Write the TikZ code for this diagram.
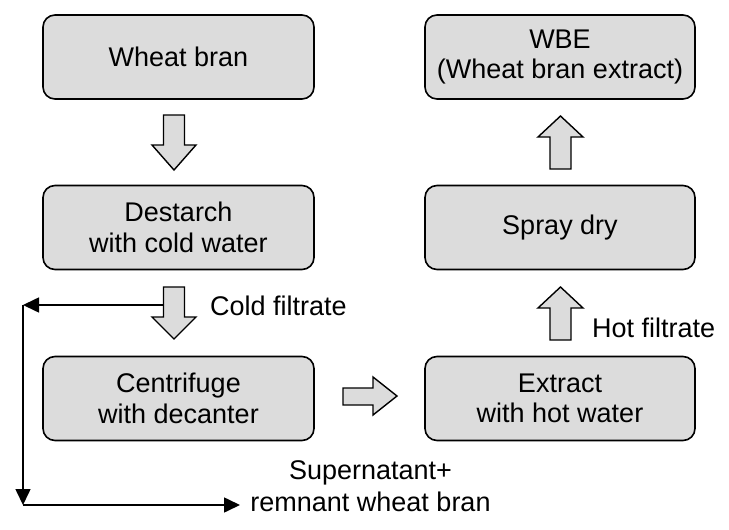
\documentclass[tikz,border=0pt]{standalone}
\usepackage{fontspec}
\setmainfont{Liberation Sans}
\usetikzlibrary{arrows.meta}
\begin{document}
\begin{tikzpicture}[x=1pt,y=-1pt,
  procbox/.style={draw=black, line width=1.6pt, fill=boxgray, rounded corners=12pt,
    minimum width=271pt, minimum height=84pt, align=center, inner sep=0pt,
    font=\fontsize{27}{30.5}\selectfont},
  blockarrow/.style={draw=black, line width=1.4pt, fill=boxgray, line join=miter},
  lbl/.style={font=\fontsize{27}{32}\selectfont, inner sep=0pt, align=center},
  flow/.style={line width=1.6pt, -{Triangle[length=16pt,width=15pt]}}]
\definecolor{boxgray}{HTML}{DCDCDC}
\useasboundingbox (0,0) rectangle (729,530);
% boxes
\node[procbox] (wb) at (178.5,57) {Wheat bran};
\node[procbox] (ds) at (178.5,227.5) {Destarch\\with cold water};
\node[procbox] (cf) at (178.5,398.5) {Centrifuge\\with decanter};
\node[procbox, minimum width=270pt] (wbe) at (560,57) {WBE\\(Wheat bran extract)};
\node[procbox, minimum width=270pt] (sd) at (560,227.5) {Spray dry};
\node[procbox, minimum width=270pt] (ex) at (560,398.5) {Extract\\with hot water};
% block arrows
\draw[blockarrow] (163.5,115) -- (184.5,115) -- (184.5,145) -- (196,145) -- (174,170) -- (152,145) -- (163.5,145) -- cycle;
\draw[blockarrow] (163.5,287) -- (184.5,287) -- (184.5,317) -- (196,317) -- (174,339) -- (152,317) -- (163.5,317) -- cycle;
\draw[blockarrow] (343,388) -- (373,388) -- (373,377) -- (397,396) -- (373,415) -- (373,405) -- (343,405) -- cycle;
\draw[blockarrow] (550,169) -- (550,137) -- (538,137) -- (560.5,116) -- (583,137) -- (571,137) -- (571,169) -- cycle;
\draw[blockarrow] (550,340) -- (550,308) -- (538,308) -- (560.5,287) -- (583,308) -- (571,308) -- (571,340) -- cycle;
% side connector
\coordinate (tap) at (163.5,305);
\coordinate (c1) at (23,305);
\coordinate (c2) at (23,505);
\coordinate (c3) at (240,505);
\draw[flow] (tap) -- (c1);
\draw[flow] (c1) -- (c2);
\draw[flow] (c2) -- (c3);
% labels
\node[lbl, anchor=west] (cfl) at (210,306) {Cold filtrate};
\node[lbl, anchor=west] (hfl) at (592,328) {Hot filtrate};
\node[lbl] (sup) at (370.5,486) {Supernatant+\\remnant wheat bran};
\end{tikzpicture}
\end{document}
